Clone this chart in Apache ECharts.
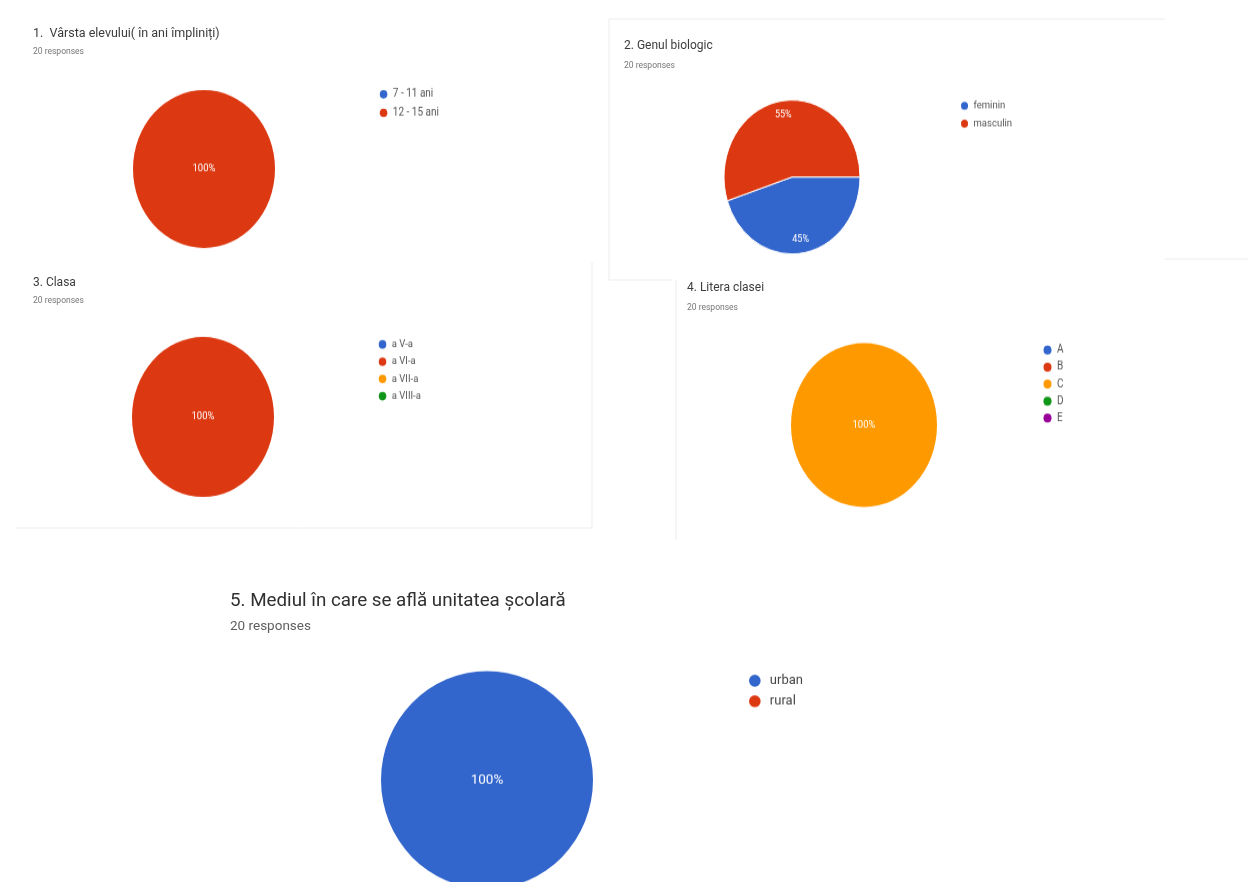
<!DOCTYPE html>
<html>
<head>
<meta charset="utf-8">
<script src="https://cdn.jsdelivr.net/npm/echarts@6/dist/echarts.min.js"></script>
<style>
  html, body { margin: 0; padding: 0; background: #ffffff; }
  #page { position: absolute; left: 0; top: 0; width: 1248px; height: 882px; }
  .pie { position: absolute; transform-origin: 0 0; }
</style>
</head>
<body>
<div id="page"></div>
<div id="p1" class="pie"></div>
<div id="p2" class="pie"></div>
<div id="p3" class="pie"></div>
<div id="p4" class="pie"></div>
<div id="p5" class="pie"></div>
<script>
// Survey answers (20 responses per question)
const ageLabels = ['7 - 11 ani', '12 - 15 ani'];
const ageCounts = [0, 20];
const genderLabels = ['feminin', 'masculin'];
const genderCounts = [9, 11];
const classLabels = ['a V-a', 'a VI-a', 'a VII-a', 'a VIII-a'];
const classCounts = [0, 20, 0, 0];
const letterLabels = ['A', 'B', 'C', 'D', 'E'];
const letterCounts = [0, 0, 20, 0, 0];
const areaLabels = ['urban', 'rural'];
const areaCounts = [20, 0];

const questionTitles = [
  '1.  Vârsta elevului( în ani împliniți)',
  '2. Genul biologic',
  '3. Clasa',
  '4. Litera clasei',
  '5. Mediul în care se află unitatea școlară'
];
const responsesText = '20 responses';

const palette = ['#3366cc', '#dc3912', '#ff9900', '#109618', '#990099'];
const FONT = 'Roboto, "Noto Sans", Arial, sans-serif';

// ---- headings and panel frames ----
const page = echarts.init(document.getElementById('page'), null, { renderer: 'canvas' });

function heading(text, x, yc, size, color) {
  return {
    text: text, left: x, top: yc - size * 0.62, padding: 0,
    textStyle: { fontFamily: FONT, fontSize: size, fontWeight: 'normal', color: color }
  };
}

const frameColor = '#ececec';
function hline(x1, x2, y) {
  return { type: 'line', shape: { x1: x1, y1: y, x2: x2, y2: y }, style: { stroke: frameColor, lineWidth: 1 } };
}
function vline(x, y1, y2) {
  return { type: 'line', shape: { x1: x, y1: y1, x2: x, y2: y2 }, style: { stroke: frameColor, lineWidth: 1 } };
}

page.setOption({
  backgroundColor: '#ffffff',
  title: [
    heading(questionTitles[0], 33, 35, 12.5, '#3c3c3c'),
    heading(responsesText, 33, 53, 8.5, '#777777'),
    heading(questionTitles[1], 624, 47, 12, '#3c3c3c'),
    heading(responsesText, 624, 67, 8.5, '#777777'),
    heading(questionTitles[2], 33, 284, 12, '#3c3c3c'),
    heading(responsesText, 33, 302, 8.5, '#777777'),
    heading(questionTitles[3], 687, 289, 12, '#3c3c3c'),
    heading(responsesText, 687, 309, 8.5, '#777777'),
    heading(questionTitles[4], 230, 603, 18.8, '#303030'),
    heading(responsesText, 230, 628, 13.5, '#5f5f5f')
  ],
  graphic: [
    hline(609, 1165, 19),
    vline(609, 19, 280),
    hline(609, 672, 280),
    vline(592, 262, 528),
    hline(15, 592, 528),
    vline(676, 280, 540),
    hline(1165, 1248, 259)
  ]
});

// ---- pies: each one drawn in its own canvas, stretched vertically into an ellipse ----
function buildPie(id, names, values, layout) {
  const el = document.getElementById(id);
  const s = layout.ry / layout.rx;
  const L = layout.box[0], T = layout.box[1], W = layout.box[2], H = layout.box[3];
  el.style.left = L + 'px';
  el.style.top = T + 'px';
  el.style.width = W + 'px';
  el.style.height = (H / s) + 'px';
  el.style.transform = 'scale(1,' + s + ')';
  const chart = echarts.init(el, null, { renderer: 'canvas' });

  const total = values.reduce(function (a, b) { return a + b; }, 0);
  const data = names.map(function (n, i) { return { name: n, value: values[i] }; });
  const pctLabel = function (p) {
    return p.value > 0 ? Math.round(p.value / total * 100) + '%' : '';
  };
  const center = [layout.cx - L, (layout.cy - T) / s];
  const lg = layout.legend;
  const dotH = lg.dot / s;
  const rowH = Math.max(dotH, lg.font);

  const series = [{
    type: 'pie',
    center: center,
    radius: [0, layout.rx],
    startAngle: layout.startAngle,
    clockwise: true,
    data: data,
    silent: true,
    itemStyle: { borderColor: '#ffffff', borderWidth: layout.split ? 1 : 0 },
    label: layout.split ? { show: false } : {
      show: true, position: 'center', formatter: pctLabel,
      color: '#ffffff', fontFamily: FONT, fontSize: layout.labelSize
    },
    labelLine: { show: false }
  }];

  if (layout.split) {
    // Percent labels sit at about three quarters of the radius
    series.push({
      type: 'pie',
      center: center,
      radius: [layout.rx * 0.54, layout.rx],
      startAngle: layout.startAngle,
      clockwise: true,
      data: data,
      silent: true,
      legendHoverLink: false,
      itemStyle: { color: 'rgba(0,0,0,0)' },
      label: {
        show: true, position: 'inside', formatter: pctLabel,
        color: '#ffffff', fontFamily: FONT, fontSize: layout.labelSize
      },
      labelLine: { show: false }
    });
  }

  chart.setOption({
    animation: false,
    color: palette,
    legend: {
      orient: 'vertical',
      left: lg.x - lg.dot / 2 - L,
      top: (lg.y - T) / s - dotH / 2,
      padding: 0,
      icon: 'circle',
      itemWidth: lg.dot,
      itemHeight: dotH,
      itemGap: lg.pitch / s - rowH,
      itemStyle: { borderWidth: 0 },
      selectedMode: false,
      data: names,
      textStyle: {
        fontFamily: FONT, fontSize: lg.font, color: lg.color, padding: [0, 0, 0, lg.textPad]
      }
    },
    series: series
  });
}

buildPie('p1', ageLabels, ageCounts, {
  box: [100, 70, 420, 200], cx: 204, cy: 169, rx: 71, ry: 79, startAngle: 90, labelSize: 9.5,
  legend: { x: 384, y: 93, pitch: 18.5, dot: 8.5, font: 10, color: '#555', textPad: 0 }
});
buildPie('p2', genderLabels, genderCounts, {
  box: [690, 80, 420, 190], cx: 792, cy: 177, rx: 68, ry: 77, startAngle: 0, split: true, labelSize: 9,
  legend: { x: 965, y: 104, pitch: 17.5, dot: 8, font: 9.5, color: '#555', textPad: 0 }
});
buildPie('p3', classLabels, classCounts, {
  box: [100, 320, 420, 200], cx: 203, cy: 417, rx: 71, ry: 80, startAngle: 90, labelSize: 9.5,
  legend: { x: 383, y: 343, pitch: 16.7, dot: 8.5, font: 9.5, color: '#555', textPad: 0 }
});
buildPie('p4', letterLabels, letterCounts, {
  box: [760, 320, 420, 210], cx: 864, cy: 425, rx: 73, ry: 82, startAngle: 90, labelSize: 9.5,
  legend: { x: 1048, y: 349, pitch: 17, dot: 9, font: 10, color: '#555', textPad: 0 }
});
buildPie('p5', areaLabels, areaCounts, {
  box: [360, 650, 500, 232], cx: 487, cy: 780, rx: 106, ry: 109, startAngle: 90, labelSize: 13.5,
  legend: { x: 755, y: 680, pitch: 20.5, dot: 12, font: 13, color: '#444', textPad: 4 }
});
</script>
</body>
</html>
